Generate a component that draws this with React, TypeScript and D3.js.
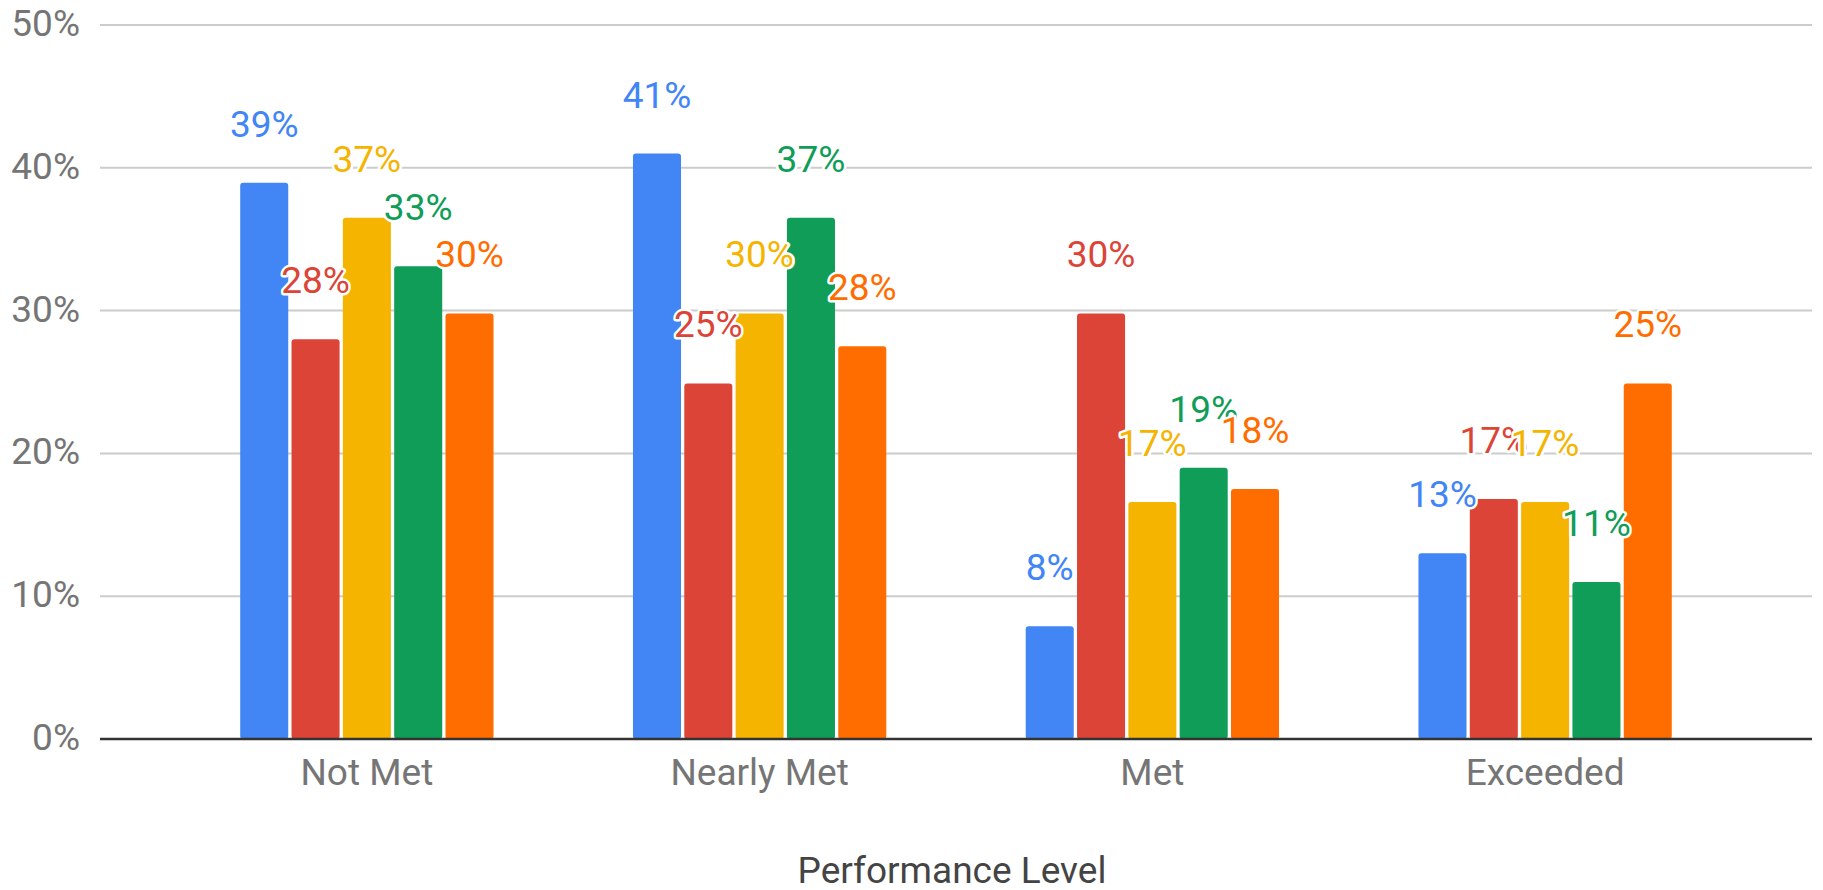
import React from "react";
import * as d3 from "d3";

const categories = ["Not Met", "Nearly Met", "Met", "Exceeded"];
const seriesNames = ["Series 1", "Series 2", "Series 3", "Series 4", "Series 5"];
const series1 = [38.95, 41.0, 7.9, 13.0];
const series2 = [28.0, 24.9, 29.8, 16.8];
const series3 = [36.5, 29.8, 16.6, 16.6];
const series4 = [33.1, 36.5, 19.0, 11.0];
const series5 = [29.8, 27.5, 17.5, 24.9];
const yTicks = [0, 10, 20, 30, 40, 50];
const xTitle = "Performance Level";

const seriesValues = [series1, series2, series3, series4, series5];
const colors = ["#4285F4", "#DB4437", "#F4B400", "#0F9D58", "#FF6D00"];

const W = 1823;
const H = 890;
const plotLeft = 100;
const plotRight = 1812;
const plotTop = 25;
const plotBottom = 739;
const FONT = "Roboto, 'Noto Sans', Arial, sans-serif";
const FS = 37;
const labelGap = 46;

export default function App() {
  const x0 = d3
    .scaleBand<string>()
    .domain(categories)
    .range([plotLeft, plotRight])
    .paddingInner(0.355)
    .paddingOuter(0.357);
  const x1 = d3
    .scaleBand<string>()
    .domain(seriesNames)
    .range([0, x0.bandwidth()])
    .paddingInner(0.064);
  const y = d3.scaleLinear().domain([0, 50]).range([plotBottom, plotTop]);

  const bars: any[] = [];
  const labels: any[] = [];
  seriesNames.forEach((s, si) => {
    categories.forEach((c, ci) => {
      const v = seriesValues[si][ci];
      const bx = (x0(c) as number) + (x1(s) as number);
      const bw = x1.bandwidth();
      const top = y(v);
      bars.push(
        <rect
          key={`b-${si}-${ci}`}
          x={bx}
          y={top}
          width={bw}
          height={plotBottom - top}
          rx={3}
          ry={3}
          fill={colors[si]}
        />
      );
      labels.push(
        <text
          key={`l-${si}-${ci}`}
          x={bx + bw / 2}
          y={top - labelGap}
          textAnchor="middle"
          fontFamily={FONT}
          fontSize={FS}
          fill={colors[si]}
          stroke="#ffffff"
          strokeWidth={5}
          strokeLinejoin="round"
          style={{ paintOrder: "stroke" }}
        >
          {`${Math.round(v)}%`}
        </text>
      );
    });
  });

  return (
    <svg
      width={W}
      height={H}
      style={{ position: "fixed", left: 0, top: 0, background: "#fff" }}
    >
      <rect x={0} y={0} width={W} height={H} fill="#ffffff" />
      {yTicks.map((t) => (
        <g key={`t-${t}`}>
          {t !== 0 && (
            <line
              x1={plotLeft}
              x2={plotRight}
              y1={y(t)}
              y2={y(t)}
              stroke="#cccccc"
              strokeWidth={2}
            />
          )}
          <text
            x={80}
            y={y(t) + 11}
            textAnchor="end"
            fontFamily={FONT}
            fontSize={FS}
            fill="#757575"
          >
            {`${t}%`}
          </text>
        </g>
      ))}
      {bars}
      <line
        x1={plotLeft}
        x2={plotRight}
        y1={plotBottom}
        y2={plotBottom}
        stroke="#333333"
        strokeWidth={2.5}
      />
      {labels}
      {categories.map((c) => (
        <text
          key={`c-${c}`}
          x={(x0(c) as number) + x0.bandwidth() / 2}
          y={785}
          textAnchor="middle"
          fontFamily={FONT}
          fontSize={FS}
          fill="#757575"
        >
          {c}
        </text>
      ))}
      <text
        x={(plotLeft + plotRight) / 2 - 4}
        y={883}
        textAnchor="middle"
        fontFamily={FONT}
        fontSize={FS}
        fill="#444444"
      >
        {xTitle}
      </text>
    </svg>
  );
}
